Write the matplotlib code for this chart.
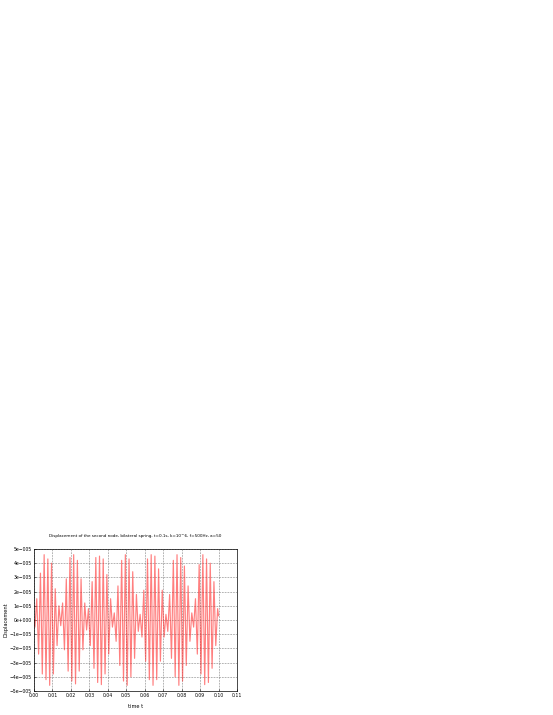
import numpy as np
import matplotlib
matplotlib.use("Agg")
import matplotlib.pyplot as plt

# half-cycle extrema of the displacement (units of 1e-5), carrier ~500 Hz
extrema = [
    -0.5, 1.5, -2.4, 3.3, -3.8, 4.6, -4.2, 4.3, -4.6, 4.0, -3.8, 2.2, -1.8, 1.0, -0.4,
    1.2, -2.1, 2.9, -3.6, 4.4, -4.3, 4.6, -4.5, 4.2, -3.6, 2.9, -2.1, 1.2, -0.7,
    0.8, -1.8, 2.7, -3.4, 4.4, -4.4, 4.5, -4.55, 4.3, -3.8, 3.2, -2.4, 1.5, -0.5,
    0.5, -1.5, 2.4, -3.2, 4.2, -4.3, 4.6, -4.6, 4.3, -4.0, 3.4, -2.7, 1.8, -0.8,
    0.4, -1.2, 2.1, -2.9, 4.3, -4.2, 4.6, -4.6, 4.5, -4.2, 3.6, -2.9, 2.1, -1.2, 0.4,
    -0.8, 1.8, -2.7, 4.2, -4.0, 4.6, -4.6, 4.4, -4.3, 3.8, -3.2, 2.4, -1.5, 0.5,
    -0.5, 1.5, -2.4, 3.9, -3.8, 4.6, -4.55, 4.3, -4.4, 4.0, -3.4, 2.7, -1.8, 0.8,
]
t_ext = 0.0005 + 0.001 * np.arange(len(extrema))

t = np.concatenate([[0.0], t_ext, [0.1]])
u = np.concatenate([[0.0], np.array(extrema), [0.3]]) * 1e-5

yticks = [-5e-5, -4e-5, -3e-5, -2e-5, -1e-5, 0, 1e-5, 2e-5, 3e-5, 4e-5, 5e-5]
ylabels = ["\u22125e\u2212005", "\u22124e\u2212005", "\u22123e\u2212005", "\u22122e\u2212005",
           "\u22121e\u2212005", "0e+000", "1e\u2212005", "2e\u2212005", "3e\u2212005",
           "4e\u2212005", "5e\u2212005"]
xticks = [0.00, 0.01, 0.02, 0.03, 0.04, 0.05, 0.06, 0.07, 0.08, 0.09, 0.10, 0.11]

fig = plt.figure(figsize=(5.53, 7.15), dpi=100)
ax = fig.add_axes([34 / 553, 1 - 691 / 715, 203 / 553, 142 / 715])

ax.plot(t, u, color="#ff2a2a", lw=0.85, alpha=0.6)

ax.set_xlim(0, 0.11)
ax.set_ylim(-5e-5, 5e-5)
ax.set_xticks(xticks)
ax.set_xticklabels(["%.2f" % x for x in xticks])
ax.set_yticks(yticks)
ax.set_yticklabels(ylabels)
ax.tick_params(labelsize=3.3, length=1.5, width=0.4, pad=1.5, direction="in")
ax.grid(True, color="#444444", linestyle=(0, (1, 1.5)), lw=0.45)
for s in ax.spines.values():
    s.set_linewidth(0.5)

ax.set_title("Displacement of the second node, bilateral spring, t=0.1s, k=10^6, f=500Hz, a=50",
             fontsize=3.0, pad=9)
ax.set_xlabel("time t", fontsize=3.6, labelpad=4)
ax.set_ylabel("Displacement", fontsize=3.6)
ax.yaxis.set_label_coords(-0.125, 0.5)

fig.savefig("out.png", dpi=100)
